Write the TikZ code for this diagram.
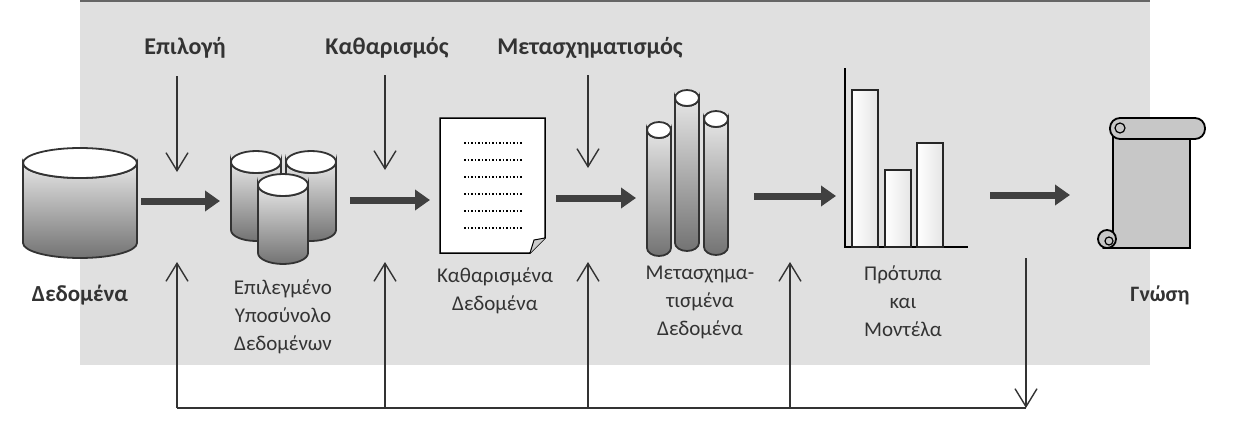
\documentclass[tikz,border=0pt]{standalone}
\usepackage{fontspec}
\setmainfont{Carlito}
\usetikzlibrary{arrows.meta}

% styles
\tikzset{
  flow/.style={line width=7pt,draw=black!75,-{Triangle[length=15pt,width=20pt]}},
  thin arrow/.style={line width=1.4pt,draw=black!80,-{Straight Barb[length=18pt,width=22pt]}},
  step label/.style={font=\bfseries\fontsize{24}{26}\selectfont,text=black!80},
  item label/.style={font=\fontsize{21}{28}\selectfont,text=black!80,align=center,anchor=north},
  drum/.style={draw=black!80,line width=1.8pt,top color=black!10,bottom color=black!55},
  lid/.style={draw=black!80,line width=1.8pt,fill=white},
  bar/.style={draw=black!85,line width=1.8pt,left color=white,right color=black!10}
}
% cylinder: centre x, top y, half width, height, lid radius
\newcommand{\drum}[5]{%
  \path[drum] ({#1-#3},#2) -- ++(0,#4) arc (180:0:#3 and #5) -- ++(0,-#4) arc (0:180:#3 and #5) -- cycle;
  \path[lid] (#1,#2) ellipse (#3 and #5);}

\begin{document}
\begin{tikzpicture}[x=1pt,y=-1pt]
\useasboundingbox (0,0) rectangle (1256,431);
% background
\fill[black!12] (80,0) rectangle (1150,365);
\draw[black!60,line width=1.5pt] (80,1) -- (1150,1);

% Dedomena
\drum{80}{163}{57}{80}{15}
\coordinate (data) at (141,201);
\node[item label,font=\bfseries\fontsize{23}{28}\selectfont] (datalbl) at (80,282) {Δεδομένα};

% selected subset
\drum{256}{162}{25}{68}{11}
\drum{311}{162}{25}{68}{11}
\drum{283}{185}{25}{68}{11}
\coordinate (subin) at (220,201);
\coordinate (subout) at (350,200);
\node[item label] (sublbl) at (283,276) {Επιλεγμένο\\Υποσύνολο\\Δεδομένων};

% cleaned document
\draw[line width=1.5pt,fill=white] (440,118) -- (545,118) -- (545,238) -- (530,253) -- (440,253) -- cycle;
\draw[line width=1pt,fill=black!20] (545,238) -- (534,240) -- (530,253);
\foreach \yy in {143,160,177,194,211,228}
  \draw[line width=1.5pt,dotted] (464,\yy) -- (523,\yy);
\coordinate (docin) at (430,200);
\coordinate (docout) at (556,198);
\node[item label] (doclbl) at (495,264) {Καθαρισμένα\\Δεδομένα};

% transformed tubes
\drum{687}{98}{12}{145}{8}
\drum{659}{130}{12}{118}{8}
\drum{716}{119}{12}{128}{8}
\coordinate (tubein) at (636,198);
\coordinate (tubeout) at (754,196);
\node[item label] (tubelbl) at (700,262) {Μετασχημα-\\τισμένα\\Δεδομένα};

% patterns and models
\draw[line width=1.8pt] (845,68) -- (845,247) -- (968,247);
\draw[bar] (852,90) rectangle (878,247);
\draw[bar] (885,170) rectangle (911,247);
\draw[bar] (917,143) rectangle (943,247);
\coordinate (chartin) at (836,196);
\coordinate (chartout) at (990,195);
\node[item label] (chartlbl) at (903,262) {Πρότυπα\\και\\Μοντέλα};

% knowledge scroll
\draw[line width=1.8pt,fill=black!22] (1113,128) -- (1190,128) -- (1190,248) -- (1104,248) -- (1113,235) -- cycle;
\draw[line width=1.8pt,fill=black!22,rounded corners=10pt] (1110,118) rectangle (1205,139);
\draw[line width=1.2pt] (1120,128) circle (5);
\draw[line width=1.8pt,fill=black!22] (1107,239) circle (9);
\draw[line width=1.2pt] (1109,241) circle (4);
\coordinate (know) at (1070,195);
\node[item label,font=\bfseries\fontsize{22}{28}\selectfont] (knowlbl) at (1160,282) {Γνώση};

% main flow
\draw[flow] (data) -- (subin);
\draw[flow] (subout) -- (docin);
\draw[flow] (docout) -- (tubein);
\draw[flow] (tubeout) -- (chartin);
\draw[flow] (chartout) -- (know);

% steps
\node[step label] (sel) at (185,48) {Επιλογή};
\node[step label] (clean) at (387,48) {Καθαρισμός};
\node[step label] (trans) at (590,48) {Μετασχηματισμός};
\coordinate (selend) at (177,172);
\coordinate (cleanend) at (385,170);
\coordinate (transend) at (588,168);
\draw[thin arrow] (selend |- 0,76) -- (selend);
\draw[thin arrow] (cleanend |- 0,75) -- (cleanend);
\draw[thin arrow] (transend |- 0,75) -- (transend);

% feedback
\coordinate (fbA) at (177,408);
\coordinate (fbB) at (385,408);
\coordinate (fbC) at (588,408);
\coordinate (fbD) at (790,408);
\coordinate (fbE) at (1026,408);
\draw[line width=1.5pt,draw=black!80] (fbA) -- (fbE);
\foreach \p in {fbA,fbB,fbC,fbD}
  \draw[thin arrow] (\p) -- ++(0,-146);
\draw[thin arrow] (1026,258) -- (fbE);
\end{tikzpicture}
\end{document}
